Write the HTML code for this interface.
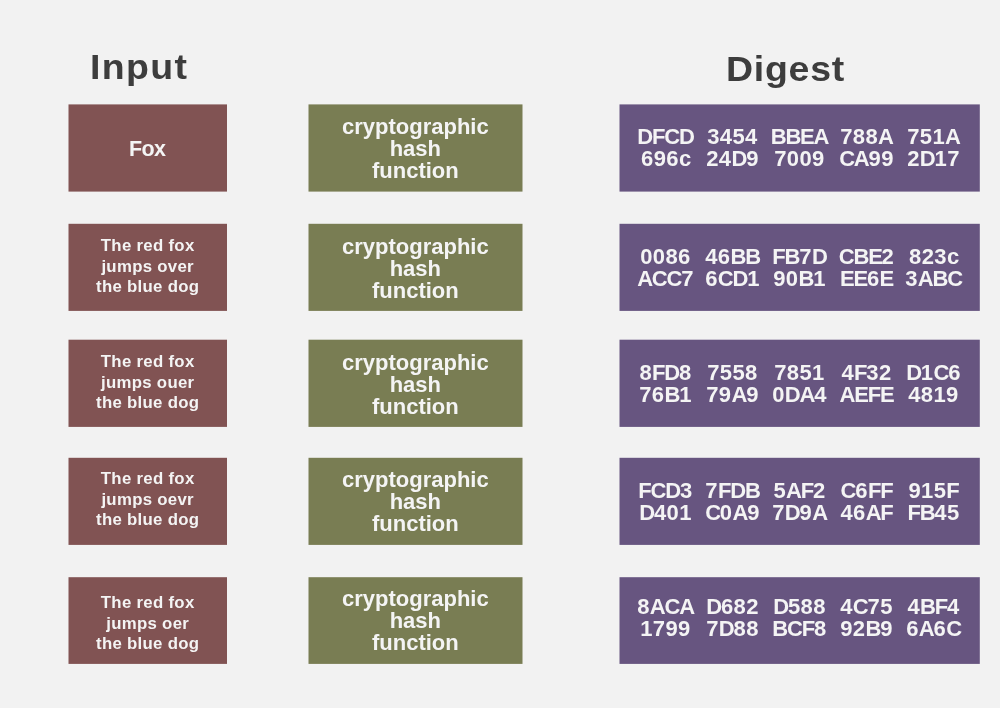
<!DOCTYPE html><html><head><meta charset="utf-8"><style>
*{margin:0;padding:0;box-sizing:border-box}
html,body{width:1000px;height:708px;overflow:hidden;background:#f2f2f2;font-family:"Liberation Sans",sans-serif;font-weight:bold}
.b{position:absolute;display:flex;align-items:center;justify-content:center;text-align:center;color:#f4f4f4}
.b>div{will-change:transform}
.r{left:68px;width:159px}
.g{left:308px;width:215px}
.p{left:619px;width:361px}
svg{position:absolute;left:0;top:0}
.h{position:absolute;color:#3d3d3d;font-size:35px;line-height:40px;white-space:nowrap;will-change:transform;transform:scaleX(1.07);transform-origin:0 0}
.rt{font-size:16.8px;line-height:20.7px;letter-spacing:0.3px}
.rf{font-size:21.5px;line-height:24px;padding-top:2px;letter-spacing:-0.6px;margin-left:0px}
.gt{font-size:22px;line-height:22px}
.pt{font-size:22px;line-height:21.6px;letter-spacing:-1.2px}
.pr{display:flex;justify-content:center}
.pr span{display:block;width:67px;text-align:center;white-space:nowrap}
.pr i{font-style:normal;letter-spacing:0.4px;font-size:22px;line-height:16px}
</style></head><body>
<svg width="1000" height="708" viewBox="0 0 1000 708"><rect x="68.5" y="104.4" width="158.5" height="87.2" fill="#815353"/><rect x="308.5" y="104.4" width="214.0" height="87.2" fill="#797d53"/><rect x="619.5" y="104.4" width="360.3" height="87.2" fill="#675580"/><rect x="68.5" y="223.8" width="158.5" height="87.1" fill="#815353"/><rect x="308.5" y="223.8" width="214.0" height="87.1" fill="#797d53"/><rect x="619.5" y="223.8" width="360.3" height="87.1" fill="#675580"/><rect x="68.5" y="339.7" width="158.5" height="87.2" fill="#815353"/><rect x="308.5" y="339.7" width="214.0" height="87.2" fill="#797d53"/><rect x="619.5" y="339.7" width="360.3" height="87.2" fill="#675580"/><rect x="68.5" y="457.8" width="158.5" height="87.1" fill="#815353"/><rect x="308.5" y="457.8" width="214.0" height="87.1" fill="#797d53"/><rect x="619.5" y="457.8" width="360.3" height="87.1" fill="#675580"/><rect x="68.5" y="577.2" width="158.5" height="86.7" fill="#815353"/><rect x="308.5" y="577.2" width="214.0" height="86.7" fill="#797d53"/><rect x="619.5" y="577.2" width="360.3" height="86.7" fill="#675580"/></svg>
<div class="h" style="left:90px;top:47px;letter-spacing:1.3px">Input</div>
<div class="h" style="left:726px;top:48.5px;letter-spacing:0.7px">Digest</div>
<div class="b r" style="top:104px;height:88px"><div class="rf" style="position:relative;top:0px">Fox</div></div>
<div class="b g" style="top:104px;height:88px"><div class="gt" style="position:relative;top:0.5px">cryptographic<br>hash<br>function</div></div>
<div class="b p" style="top:104px;height:88px"><div class="pt" style="position:relative;top:0px"><div class="pr"><span>DFCD</span><span><i>3454</i></span><span>BBEA</span><span><i>788</i>A</span><span><i>751</i>A</span></div><div class="pr"><span><i>696</i>c</span><span><i>24</i>D<i>9</i></span><span><i>7009</i></span><span>CA<i>99</i></span><span><i>2</i>D<i>17</i></span></div></div></div>
<div class="b r" style="top:224px;height:87px"><div class="rt" style="position:relative;top:0px">The red fox<br>jumps over<br>the blue dog</div></div>
<div class="b g" style="top:224px;height:87px"><div class="gt" style="position:relative;top:1px">cryptographic<br>hash<br>function</div></div>
<div class="b p" style="top:224px;height:87px"><div class="pt" style="position:relative;top:0px"><div class="pr"><span><i>0086</i></span><span><i>46</i>BB</span><span>FB<i>7</i>D</span><span>CBE<i>2</i></span><span><i>823</i>c</span></div><div class="pr"><span>ACC<i>7</i></span><span><i>6</i>CD<i>1</i></span><span><i>90</i>B<i>1</i></span><span>EE<i>6</i>E</span><span><i>3</i>ABC</span></div></div></div>
<div class="b r" style="top:340px;height:87px"><div class="rt" style="position:relative;top:0px">The red fox<br>jumps ouer<br>the blue dog</div></div>
<div class="b g" style="top:340px;height:87px"><div class="gt" style="position:relative;top:1px">cryptographic<br>hash<br>function</div></div>
<div class="b p" style="top:340px;height:87px"><div class="pt" style="position:relative;top:0px"><div class="pr"><span><i>8</i>FD<i>8</i></span><span><i>7558</i></span><span><i>7851</i></span><span><i>4</i>F<i>32</i></span><span>D<i>1</i>C<i>6</i></span></div><div class="pr"><span><i>76</i>B<i>1</i></span><span><i>79</i>A<i>9</i></span><span><i>0</i>DA<i>4</i></span><span>AEFE</span><span><i>4819</i></span></div></div></div>
<div class="b r" style="top:458px;height:87px"><div class="rt" style="position:relative;top:-1px">The red fox<br>jumps oevr<br>the blue dog</div></div>
<div class="b g" style="top:458px;height:87px"><div class="gt" style="position:relative;top:0px">cryptographic<br>hash<br>function</div></div>
<div class="b p" style="top:458px;height:87px"><div class="pt" style="position:relative;top:0px"><div class="pr"><span>FCD<i>3</i></span><span><i>7</i>FDB</span><span><i>5</i>AF<i>2</i></span><span>C<i>6</i>FF</span><span><i>915</i>F</span></div><div class="pr"><span>D<i>401</i></span><span>C<i>0</i>A<i>9</i></span><span><i>7</i>D<i>9</i>A</span><span><i>46</i>AF</span><span>FB<i>45</i></span></div></div></div>
<div class="b r" style="top:577px;height:87px"><div class="rt" style="position:relative;top:4px">The red fox<br>jumps oer<br>the blue dog</div></div>
<div class="b g" style="top:577px;height:87px"><div class="gt" style="position:relative;top:0px">cryptographic<br>hash<br>function</div></div>
<div class="b p" style="top:577px;height:87px"><div class="pt" style="position:relative;top:-2.5px"><div class="pr"><span><i>8</i>ACA</span><span>D<i>682</i></span><span>D<i>588</i></span><span><i>4</i>C<i>75</i></span><span><i>4</i>BF<i>4</i></span></div><div class="pr"><span><i>1799</i></span><span><i>7</i>D<i>88</i></span><span>BCF<i>8</i></span><span><i>92</i>B<i>9</i></span><span><i>6</i>A<i>6</i>C</span></div></div></div>
</body></html>
